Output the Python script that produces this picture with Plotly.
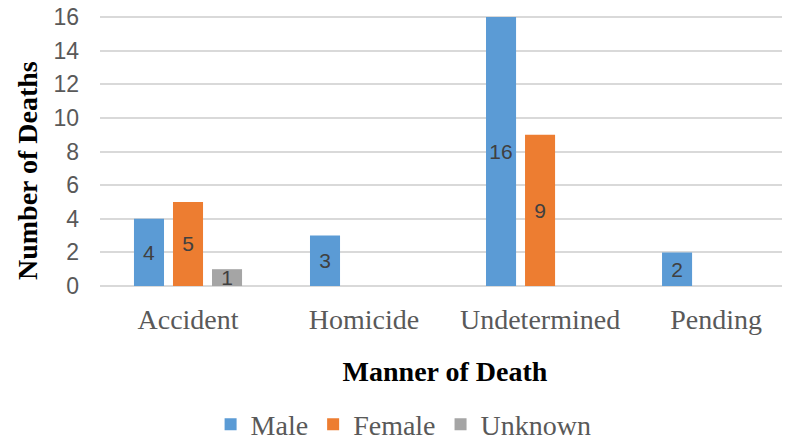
import plotly.graph_objects as go

# Manner of death counts by sex
categories = ['Accident', 'Homicide', 'Undetermined', 'Pending']
male = [4, 3, 16, 2]
female = [5, None, 9, None]
unknown = [1, None, None, None]

series = [
    ('Male', male, '#5B9BD5'),
    ('Female', female, '#ED7D31'),
    ('Unknown', unknown, '#A5A5A5'),
]

SERIF = 'Liberation Serif, Times New Roman, serif'
SANS = 'Liberation Sans, Arial, sans-serif'

fig = go.Figure()
for name, vals, color in series:
    fig.add_trace(go.Bar(
        x=categories,
        y=vals,
        name=name,
        marker=dict(color=color, line=dict(width=0)),
        text=[str(v) if v is not None else '' for v in vals],
        textposition='inside',
        insidetextanchor='middle',
        textangle=0,
        textfont=dict(family=SANS, size=21, color='#404040'),
    ))

# the page body adds an 8px margin, so margins are shifted to compensate
fig.update_layout(
    width=790,
    height=445,
    paper_bgcolor='white',
    plot_bgcolor='white',
    barmode='group',
    bargap=0.335,
    bargroupgap=0.23,
    margin=dict(l=92, r=8, t=1, b=167, autoexpand=False),
    uniformtext=dict(minsize=21, mode='show'),
    showlegend=True,
    legend=dict(
        orientation='h',
        x=0.44, xanchor='center',
        y=-0.50, yanchor='middle',
        font=dict(family=SERIF, size=28, color='#595959'),
        itemwidth=30,
        traceorder='normal',
    ),
    annotations=[dict(
        text='<b>Number of Deaths</b>',
        textangle=-90,
        xref='paper', yref='paper',
        x=0, y=0.415,
        xanchor='center', yanchor='middle',
        xshift=-73,
        showarrow=False,
        font=dict(family=SERIF, size=28, color='black'),
    )],
)

fig.update_xaxes(
    automargin=False,
    range=[-0.5, 3.42],
    showgrid=False,
    showline=False,
    ticks='',
    ticklabelstandoff=14,
    tickfont=dict(family=SERIF, size=28, color='#595959'),
    title=dict(
        text='<b>Manner of Death</b>',
        font=dict(family=SERIF, size=28, color='black'),
        standoff=27,
    ),
)

fig.update_yaxes(
    automargin=False,
    range=[0, 16.476],
    tickvals=[0, 2, 4, 6, 8, 10, 12, 14, 16],
    ticklabeloverflow='allow',
    showgrid=True,
    gridcolor='#D9D9D9',
    gridwidth=1.5,
    zeroline=True,
    zerolinecolor='#D9D9D9',
    zerolinewidth=1.5,
    showline=False,
    ticks='',
    ticklabelstandoff=20,
    tickfont=dict(family=SANS, size=23, color='#595959'),
)

fig.write_html('out.html')
